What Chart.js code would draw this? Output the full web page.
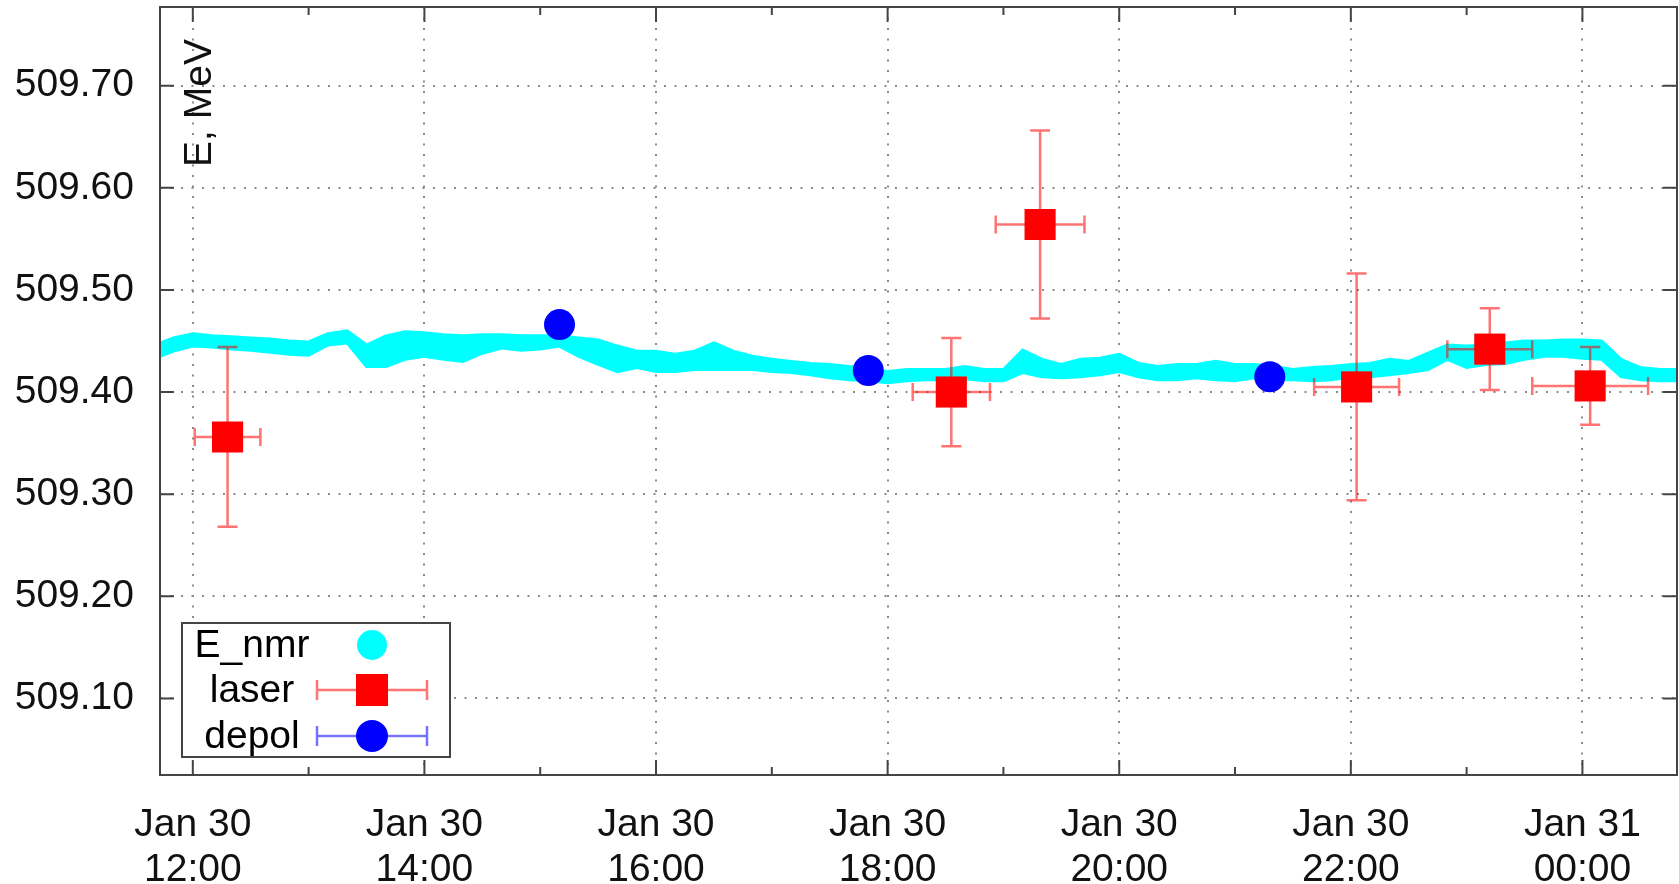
<!DOCTYPE html>
<html>
<head>
<meta charset="utf-8">
<script src="https://cdn.jsdelivr.net/npm/chart.js@4.4.0/dist/chart.umd.min.js"></script>
<style>
  html, body { margin: 0; padding: 0; background: #fff; }
</style>
</head>
<body>
<canvas id="myChart" width="1679" height="884"></canvas>
<script>
// times are minutes from Jan 30 00:00, energies in MeV
const nmrTime = [
  703, 710, 720, 730, 740, 750, 760, 770, 780, 790,
  800, 810, 820, 830, 840, 850, 860, 870, 880, 890,
  900, 910, 920, 930, 940, 950, 960, 970, 980, 990,
  1000, 1010, 1020, 1030, 1040, 1050, 1060, 1070, 1080, 1090,
  1100, 1110, 1120, 1130, 1140, 1150, 1160, 1170, 1180, 1190,
  1200, 1210, 1220, 1230, 1240, 1250, 1260, 1270, 1280, 1290,
  1300, 1310, 1320, 1330, 1340, 1350, 1360, 1370, 1380, 1390,
  1400, 1410, 1420, 1430, 1440, 1450, 1460, 1470, 1480, 1489
];
const nmrUpper = [
  509.448, 509.453, 509.457, 509.455, 509.454, 509.453, 509.452, 509.450, 509.449, 509.457,
  509.460, 509.446, 509.455, 509.459, 509.458, 509.456, 509.455, 509.456, 509.456, 509.455,
  509.455, 509.455, 509.453, 509.451, 509.445, 509.440, 509.440, 509.437, 509.440, 509.448,
  509.440, 509.435, 509.432, 509.430, 509.428, 509.427, 509.425, 509.424, 509.420, 509.422,
  509.422, 509.422, 509.425, 509.422, 509.422, 509.441, 509.432, 509.427, 509.432, 509.433,
  509.437, 509.428, 509.425, 509.427, 509.427, 509.430, 509.427, 509.427, 509.425, 509.422,
  509.424, 509.425, 509.427, 509.428, 509.432, 509.430, 509.438, 509.446, 509.445, 509.446,
  509.448, 509.450, 509.450, 509.451, 509.451, 509.450, 509.432, 509.424, 509.422, 509.422
];
const nmrLower = [
  509.435, 509.440, 509.445, 509.444, 509.442, 509.441, 509.439, 509.437, 509.436, 509.446,
  509.448, 509.425, 509.425, 509.432, 509.435, 509.432, 509.430, 509.438, 509.443, 509.441,
  509.442, 509.445, 509.435, 509.427, 509.420, 509.424, 509.420, 509.420, 509.422, 509.422,
  509.422, 509.422, 509.420, 509.419, 509.417, 509.414, 509.412, 509.411, 509.409, 509.411,
  509.412, 509.412, 509.413, 509.411, 509.411, 509.419, 509.415, 509.414, 509.415, 509.417,
  509.420, 509.415, 509.412, 509.412, 509.414, 509.412, 509.411, 509.414, 509.412, 509.412,
  509.411, 509.412, 509.415, 509.415, 509.417, 509.419, 509.422, 509.432, 509.424, 509.427,
  509.428, 509.432, 509.435, 509.435, 509.433, 509.432, 509.415, 509.412, 509.411, 509.411
];

const laserTime = [738, 1113, 1159, 1323, 1392, 1444];
const laserE = [509.356, 509.400, 509.564, 509.405, 509.442, 509.406];
const laserTimeErr = [17, 20, 23, 22, 22, 30];
const laserEErr = [0.088, 0.053, 0.092, 0.111, 0.040, 0.038];

const depolTime = [910, 1070, 1278];
const depolE = [509.466, 509.421, 509.415];
const depolTimeErr = [4, 4, 4];
const depolEErr = [0.005, 0.005, 0.005];

const xTicks = [720, 840, 960, 1080, 1200, 1320, 1440];
const xTickLabels = [
  ['Jan 30', '12:00'], ['Jan 30', '14:00'], ['Jan 30', '16:00'], ['Jan 30', '18:00'],
  ['Jan 30', '20:00'], ['Jan 30', '22:00'], ['Jan 31', '00:00']
];
const xMinorTicks = [780, 900, 1020, 1140, 1260, 1380];
const yTicks = [509.1, 509.2, 509.3, 509.4, 509.5, 509.6, 509.7];

const fontFamily = '"Liberation Sans", Arial, sans-serif';
const gridColor = '#8a8a8a';
const frameColor = '#444';
const laserBarColor = 'rgba(255,0,0,0.55)';
const depolBarColor = 'rgba(0,0,255,0.55)';

// error bars go right after the E_nmr band, under the markers
const errorBars = {
  id: 'errorBars',
  afterDatasetDraw(chart, args) {
    if (args.index !== 1) return;
    const {ctx, scales: {x, y}} = chart;
    const sets = [
      [laserTime, laserE, laserTimeErr, laserEErr, laserBarColor],
      [depolTime, depolE, depolTimeErr, depolEErr, depolBarColor]
    ];
    ctx.save();
    ctx.lineWidth = 2.5;
    sets.forEach(([tx, ey, tErr, eErr, col]) => {
      ctx.strokeStyle = col;
      tx.forEach((t, i) => {
        const px = x.getPixelForValue(t);
        const py = y.getPixelForValue(ey[i]);
        const x0 = x.getPixelForValue(t - tErr[i]);
        const x1 = x.getPixelForValue(t + tErr[i]);
        const y0 = y.getPixelForValue(ey[i] - eErr[i]);
        const y1 = y.getPixelForValue(ey[i] + eErr[i]);
        ctx.beginPath();
        ctx.moveTo(x0, py); ctx.lineTo(x1, py);
        ctx.moveTo(x0, py - 9); ctx.lineTo(x0, py + 9);
        ctx.moveTo(x1, py - 9); ctx.lineTo(x1, py + 9);
        ctx.moveTo(px, y0); ctx.lineTo(px, y1);
        ctx.moveTo(px - 10, y0); ctx.lineTo(px + 10, y0);
        ctx.moveTo(px - 10, y1); ctx.lineTo(px + 10, y1);
        ctx.stroke();
      });
    });
    ctx.restore();
  }
};

const frameTicks = {
  id: 'frameTicks',
  afterDraw(chart) {
    const {ctx, chartArea: a, scales: {x, y}} = chart;
    ctx.save();
    ctx.strokeStyle = frameColor;
    ctx.lineWidth = 2;
    ctx.beginPath();
    x.ticks.forEach(t => {
      const px = x.getPixelForValue(t.value);
      const len = xTicks.includes(t.value) ? 15 : 8;
      ctx.moveTo(px, a.bottom); ctx.lineTo(px, a.bottom - len);
      ctx.moveTo(px, a.top); ctx.lineTo(px, a.top + len);
    });
    y.ticks.forEach(t => {
      const py = y.getPixelForValue(t.value);
      ctx.moveTo(a.left, py); ctx.lineTo(a.left + 14, py);
      ctx.moveTo(a.right, py); ctx.lineTo(a.right - 14, py);
    });
    ctx.stroke();
    ctx.strokeRect(a.left, a.top, a.right - a.left, a.bottom - a.top);

    // axis title inside the plot
    ctx.fillStyle = '#111';
    ctx.font = '39px ' + fontFamily;
    ctx.textAlign = 'center';
    ctx.textBaseline = 'middle';
    ctx.translate(a.left + 40, a.top + 96);
    ctx.rotate(-Math.PI / 2);
    ctx.fillText('E, MeV', 0, 0);
    ctx.restore();
  }
};

const boxLegend = {
  id: 'boxLegend',
  afterDraw(chart) {
    const {ctx, chartArea: a} = chart;
    const bx = a.left + 22, by = a.bottom - 152, bw = 268, bh = 134;
    const names = [chart.data.datasets[0].label, chart.data.datasets[2].label, chart.data.datasets[3].label];
    ctx.save();
    ctx.fillStyle = '#fff';
    ctx.fillRect(bx, by, bw, bh);
    ctx.strokeStyle = frameColor;
    ctx.lineWidth = 2;
    ctx.strokeRect(bx, by, bw, bh);
    ctx.font = '39px ' + fontFamily;
    ctx.fillStyle = '#000';
    ctx.textAlign = 'center';
    ctx.textBaseline = 'middle';
    const rows = [by + 22, by + 67, by + 113];
    const sx = bx + 190;
    names.forEach((n, i) => ctx.fillText(n, bx + 70, rows[i] + 1));
    ctx.fillStyle = '#00ffff';
    ctx.beginPath(); ctx.arc(sx, rows[0], 15, 0, Math.PI * 2); ctx.fill();
    const bar = (cy, col) => {
      ctx.strokeStyle = col; ctx.lineWidth = 2.5;
      ctx.beginPath();
      ctx.moveTo(sx - 55, cy); ctx.lineTo(sx + 55, cy);
      ctx.moveTo(sx - 55, cy - 10); ctx.lineTo(sx - 55, cy + 10);
      ctx.moveTo(sx + 55, cy - 10); ctx.lineTo(sx + 55, cy + 10);
      ctx.stroke();
    };
    bar(rows[1], laserBarColor);
    ctx.fillStyle = '#ff0000';
    ctx.fillRect(sx - 16, rows[1] - 16, 32, 32);
    bar(rows[2], depolBarColor);
    ctx.fillStyle = '#0000ff';
    ctx.beginPath(); ctx.arc(sx, rows[2], 16, 0, Math.PI * 2); ctx.fill();
    ctx.restore();
  }
};

const ctx = document.getElementById('myChart').getContext('2d');

const thisChart = new Chart(ctx, {
  type: 'line',
  data: {
    datasets: [
      {
        label: 'E_nmr',
        data: nmrTime.map((t, i) => ({x: t, y: nmrUpper[i]})),
        borderColor: '#00ffff',
        backgroundColor: '#00ffff',
        borderWidth: 3,
        pointRadius: 0,
        fill: '+1',
        order: 10
      },
      {
        label: 'E_nmr low',
        data: nmrTime.map((t, i) => ({x: t, y: nmrLower[i]})),
        borderColor: '#00ffff',
        borderWidth: 3,
        pointRadius: 0,
        fill: false,
        order: 9
      },
      {
        label: 'laser',
        data: laserTime.map((t, i) => ({x: t, y: laserE[i]})),
        showLine: false,
        pointStyle: 'rect',
        pointRadius: 22,
        pointBackgroundColor: '#ff0000',
        pointBorderWidth: 0,
        order: 1
      },
      {
        label: 'depol',
        data: depolTime.map((t, i) => ({x: t, y: depolE[i]})),
        showLine: false,
        pointStyle: 'circle',
        pointRadius: 15.5,
        pointBackgroundColor: '#0000ff',
        pointBorderWidth: 0,
        order: 2
      }
    ]
  },
  options: {
    responsive: false,
    animation: false,
    events: [],
    layout: { autoPadding: false, padding: { top: 7, right: 2, left: 0, bottom: 0 } },
    plugins: {
      legend: { display: false },
      tooltip: { enabled: false }
    },
    scales: {
      x: {
        type: 'linear',
        min: 703,
        max: 1489,
        afterBuildTicks: s => {
          s.ticks = xTicks.concat(xMinorTicks).sort((a, b) => a - b).map(v => ({value: v}));
        },
        afterFit: s => {
          s.height = 109;
          s.paddingLeft = 0; s.paddingRight = 0;
        },
        grid: {
          color: c => (c.tick && xTicks.includes(c.tick.value)) ? gridColor : 'rgba(0,0,0,0)',
          lineWidth: 2,
          drawTicks: false
        },
        border: { display: false, dash: [2, 8.5] },
        ticks: {
          autoSkip: false,
          maxRotation: 0,
          padding: 28,
          color: '#111',
          font: { family: fontFamily, size: 39, lineHeight: 1.154 },
          callback: v => {
            const k = xTicks.indexOf(v);
            return k >= 0 ? xTickLabels[k] : '';
          }
        }
      },
      y: {
        type: 'linear',
        min: 509.025,
        max: 509.777,
        afterBuildTicks: s => { s.ticks = yTicks.map(v => ({value: v})); },
        afterFit: s => {
          s.width = 160;
          s.paddingTop = 0; s.paddingBottom = 0;
        },
        grid: { color: gridColor, lineWidth: 2, drawTicks: false },
        border: { display: false, dash: [2, 8.5] },
        ticks: {
          padding: 26,
          color: '#111',
          font: { family: fontFamily, size: 39 },
          callback: v => v.toFixed(2)
        }
      }
    }
  },
  plugins: [errorBars, frameTicks, boxLegend]
});
</script>
</body>
</html>
